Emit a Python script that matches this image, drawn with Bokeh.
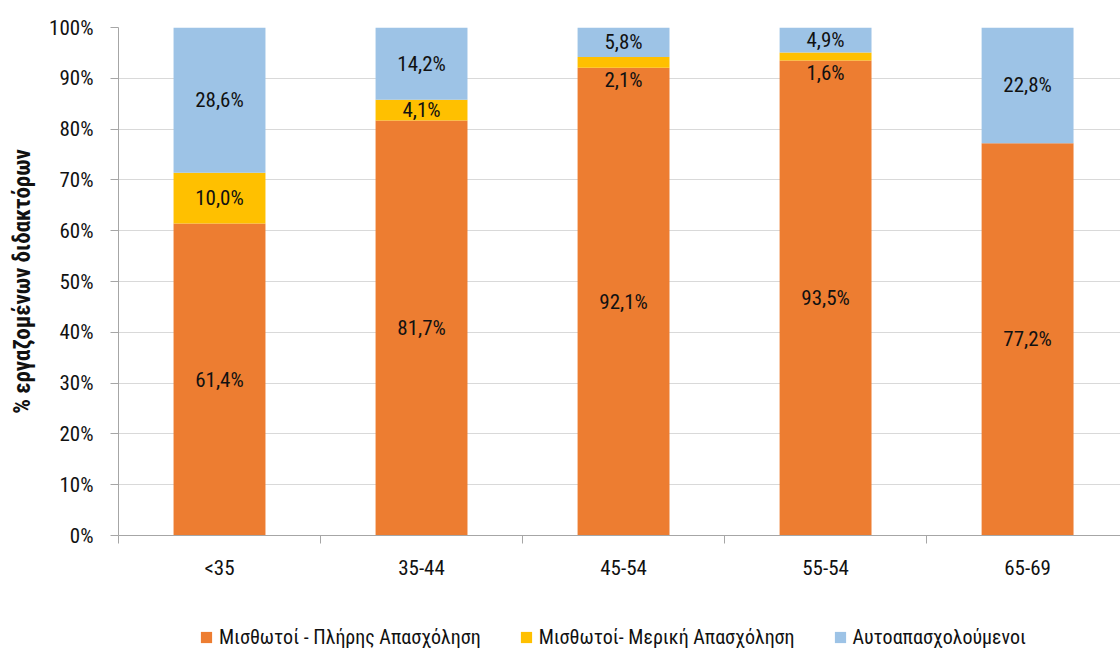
from bokeh.plotting import figure
from bokeh.layouts import column
from bokeh.models import ColumnDataSource, FixedTicker, Range1d, PrintfTickFormatter, Legend, LegendItem
from bokeh.core.properties import value
from bokeh.embed import file_html
from bokeh.resources import INLINE

categories = ["<35", "35-44", "45-54", "55-54", "65-69"]
full_time = [61.4, 81.7, 92.1, 93.5, 77.2]
part_time = [10.0, 4.1, 2.1, 1.6, 0.0]
self_employed = [28.6, 14.2, 5.8, 4.9, 22.8]
series_names = ["Μισθωτοί - Πλήρης Απασχόληση", "Μισθωτοί- Μερική Απασχόληση", "Αυτοαπασχολούμενοι"]
colors = ["#ED7D31", "#FFC000", "#9DC3E6"]
y_ticks = [0, 10, 20, 30, 40, 50, 60, 70, 80, 90, 100]
y_title = "% εργαζομένων διδακτόρων"

FONT = "Roboto Condensed"
FS = "21px"
TXT = "#111111"

xs = list(range(len(categories)))
src = ColumnDataSource(dict(x=xs, full=full_time, part=part_time, selfe=self_employed))

p = figure(width=1120, height=620, output_backend="svg", toolbar_location=None,
           x_range=Range1d(-0.5, 4.46), y_range=Range1d(0, 100),
           min_border_left=118, min_border_right=0, min_border_top=27, min_border_bottom=85)
p.outline_line_color = None

rs = p.vbar_stack(["full", "part", "selfe"], x="x", width=0.455, color=colors,
                  line_color=None, source=src)

# data labels
mid_x, mid_y, mid_t = [], [], []
top_x, top_y, top_t = [], [], []
for i in xs:
    base = 0.0
    for v in (full_time[i], part_time[i], self_employed[i]):
        if v > 0:
            t = f"{v:.1f}".replace(".", ",") + "%"
            if v < 3:
                top_x.append(i); top_y.append(base); top_t.append(t)
            else:
                mid_x.append(i); mid_y.append(base + v / 2); mid_t.append(t)
        base += v

p.text(x=mid_x, y=mid_y, text=mid_t, text_align="center", text_baseline="middle",
       text_font=value(FONT), text_font_size=FS, text_color=TXT)
p.text(x=top_x, y=top_y, text=top_t, text_align="center", text_baseline="top",
       text_font=value(FONT), text_font_size=FS, text_color=TXT)

# axes
p.xaxis.ticker = FixedTicker(ticks=xs, minor_ticks=[-0.5, 0.5, 1.5, 2.5, 3.5, 4.5])
p.xaxis.major_label_overrides = {i: c for i, c in zip(xs, categories)}
p.xaxis.major_tick_out = 0
p.xaxis.major_tick_in = 0
p.xaxis.minor_tick_out = 8
p.xaxis.minor_tick_in = 0
p.xaxis.major_label_standoff = 12
p.xaxis.axis_line_color = "#A6A6A6"
p.xaxis.minor_tick_line_color = "#A6A6A6"

p.yaxis.ticker = FixedTicker(ticks=y_ticks, minor_ticks=[])
p.yaxis.formatter = PrintfTickFormatter(format="%d%%")
p.yaxis.major_tick_out = 8
p.yaxis.major_tick_in = 0
p.yaxis.major_label_standoff = 17
p.yaxis.axis_line_color = "#A6A6A6"
p.yaxis.major_tick_line_color = "#A6A6A6"
p.yaxis.axis_label = y_title
p.yaxis.axis_label_text_font = FONT
p.yaxis.axis_label_text_font_style = "bold"
p.yaxis.axis_label_text_font_size = "23px"
p.yaxis.axis_label_text_color = TXT
p.yaxis.axis_label_standoff = 10

for ax in (p.xaxis, p.yaxis):
    ax.major_label_text_font = FONT
    ax.major_label_text_font_size = FS
    ax.major_label_text_color = TXT

p.xgrid.grid_line_color = None
p.ygrid.grid_line_color = "#D9D9D9"
p.ygrid.grid_line_width = 1

# legend strip below the chart (its frame is aligned with the chart frame)
lg = figure(width=1120, height=32, output_backend="svg", toolbar_location=None,
            x_range=Range1d(0, 1), y_range=Range1d(0, 1), min_border=0)
lg.axis.visible = False
lg.grid.visible = False
lg.outline_line_color = None
# legend-only swatches: bars placed outside the visible range
dummies = [lg.vbar(x=[0.5], bottom=[-20], top=[-10], width=0.1, fill_color=c, line_color=None)
           for c in colors]
legend = Legend(items=[LegendItem(label=n, renderers=[r]) for n, r in zip(series_names, dummies)],
                orientation="horizontal", location=(81, 3),
                padding=0, margin=0, spacing=38, label_standoff=6,
                glyph_width=14, glyph_height=14, label_height=22,
                label_text_font=FONT, label_text_font_size="20px", label_text_color=TXT,
                border_line_color=None, background_fill_alpha=0)
lg.add_layout(legend, "center")

open("out.html", "w").write(file_html(column(p, lg, spacing=0), INLINE))
